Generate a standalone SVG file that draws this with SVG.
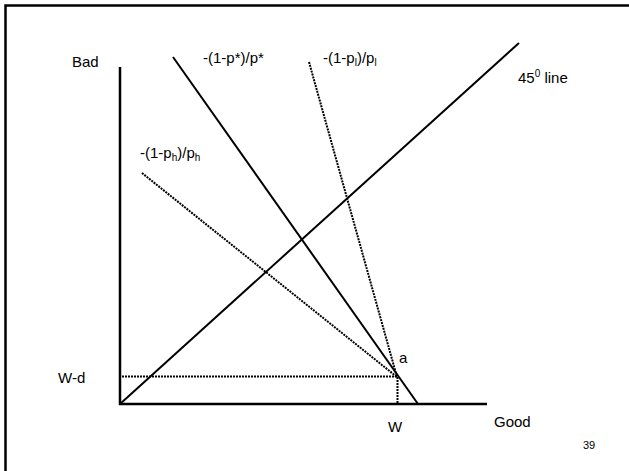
<svg xmlns="http://www.w3.org/2000/svg" width="629" height="471" viewBox="0 0 629 471">
<style>
text{font-family:"Liberation Sans",Arial,sans-serif;font-size:15px;fill:#000}
.sub{font-size:10px}
.solid{stroke:#000;stroke-width:2;fill:none}
.axis{stroke:#000;stroke-width:2.5;fill:none}
.dot{stroke:#000;stroke-width:2;stroke-dasharray:2 1;fill:none}
</style>
<rect x="5.5" y="5.5" width="640" height="480" fill="#fff" stroke="#000" stroke-width="2.5"/>
<g id="connectors">
<line class="dot" x1="142" y1="173" x2="397" y2="377"/>
<line class="dot" x1="309" y1="62" x2="397" y2="377"/>
<line class="dot" x1="122" y1="376.5" x2="397" y2="376.5"/>
<line class="dot" x1="397.5" y1="377" x2="397.5" y2="403"/>
<line class="solid" x1="120" y1="404" x2="519" y2="43"/>
<line class="solid" x1="173" y1="57" x2="418" y2="404"/>
<line class="axis" x1="120" y1="67" x2="120" y2="405"/>
<line class="axis" x1="119" y1="404" x2="487" y2="404"/>
</g>
<g id="label-bad"><text x="72" y="67">Bad</text></g>
<g id="label-pstar"><text x="203" y="63">-(1-p*)/p*</text></g>
<g id="label-pl"><text x="323" y="63">-(1-p<tspan class="sub" dy="3">l</tspan><tspan dy="-3">)/p</tspan><tspan class="sub" dy="3">l</tspan></text></g>
<g id="label-45"><text x="518" y="83">45<tspan class="sub" dy="-6">0</tspan><tspan dy="6"> line</tspan></text></g>
<g id="label-ph"><text x="140" y="158">-(1-p<tspan class="sub" dy="3">h</tspan><tspan dy="-3">)/p</tspan><tspan class="sub" dy="3">h</tspan></text></g>
<g id="label-a"><text x="399" y="363">a</text></g>
<g id="label-wd"><text x="58" y="383">W-d</text></g>
<g id="label-w"><text x="388" y="432">W</text></g>
<g id="label-good"><text x="494" y="427">Good</text></g>
<g id="label-39"><text x="583" y="449" style="font-size:11px">39</text></g>
</svg>
